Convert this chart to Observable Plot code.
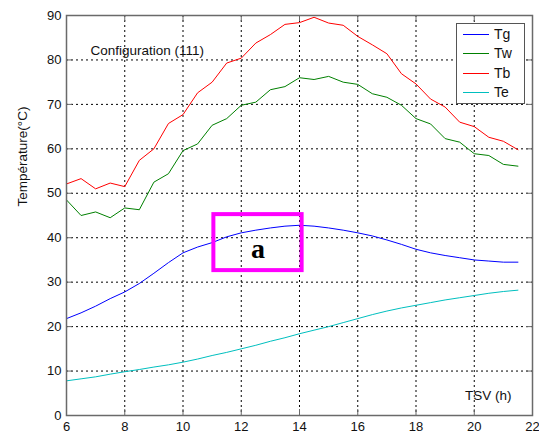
<!DOCTYPE html>
<html>
<head>
<meta charset="utf-8">
<script src="https://cdn.jsdelivr.net/npm/d3@7"></script>
<script src="https://cdn.jsdelivr.net/npm/@observablehq/plot@0.6"></script>
<style>
  body { margin: 0; background: #fff; }
  #wrap { position: relative; width: 539px; height: 437px; font-family: "Liberation Sans", Arial, sans-serif; }
  #legend { position: absolute; left: 456px; top: 23px; width: 69px; height: 81px; box-sizing: border-box;
            border: 1px solid #555; background: #fff; }
  #legend .row { position: absolute; left: 0; height: 18px; width: 100%; }
  #legend .sw { position: absolute; left: 6px; top: 9px; width: 26px; height: 0; border-top: 1px solid; }
  #legend .lb { position: absolute; left: 37px; top: 0; font-size: 14px; line-height: 18px; color: #111; }
</style>
</head>
<body>
<div id="wrap"></div>
<script>
// ---- data ----
const hours = [6, 6, 6.5, 7, 7.5, 8, 8.5, 9, 9.5, 10, 10.5, 11, 11.5, 12, 12.5, 13, 13.5, 14,
               14.5, 15, 15.5, 16, 16.5, 17, 17.5, 18, 18.5, 19, 19.5, 20, 20.5, 21, 21.5];
const seriesNames = ["Tg", "Tw", "Tb", "Te"];
const seriesColors = ["#0000ff", "#008000", "#ff0000", "#00bfbf"];
const Tg = [19.9, 21.8, 23.1, 24.6, 26.3, 27.8, 29.7, 32.0, 34.4, 36.6, 37.9, 38.9, 40.2, 41.1, 41.7, 42.2, 42.6, 42.8,
            42.6, 42.2, 41.7, 41.1, 40.4, 39.5, 38.5, 37.4, 36.6, 36.0, 35.5, 35.0, 34.75, 34.5, 34.5];
const Tw = [46.9, 48.5, 45.0, 45.8, 44.5, 46.7, 46.3, 52.5, 54.4, 59.6, 61.1, 65.3, 66.8, 69.8, 70.5, 73.3, 74.0, 76.0,
            75.6, 76.3, 75.0, 74.5, 72.4, 71.6, 69.8, 66.8, 65.6, 62.3, 61.5, 58.9, 58.5, 56.5, 56.1];
const Tb = [55.9, 52.1, 53.3, 51.0, 52.3, 51.5, 57.4, 60.0, 65.7, 67.7, 72.6, 75.0, 79.3, 80.4, 83.8, 85.7, 88.0, 88.4,
            89.6, 88.3, 87.8, 85.3, 83.4, 81.4, 76.9, 74.6, 71.2, 69.4, 66.0, 65.0, 62.6, 61.7, 59.8];
const Te = [7.8, 7.8, 8.25, 8.7, 9.3, 9.85, 10.35, 10.9, 11.4, 12.0, 12.7, 13.5, 14.2, 15.0, 15.8, 16.7, 17.5, 18.4,
            19.2, 20.0, 20.9, 21.8, 22.7, 23.5, 24.2, 24.8, 25.4, 26.0, 26.5, 27.0, 27.5, 27.9, 28.2];
const xTicks = [6, 8, 10, 12, 14, 16, 18, 20, 22];
const yTicks = [0, 10, 20, 30, 40, 50, 60, 70, 80, 90];
const highlight = [{x1: 11.06, x2: 14.09, y1: 32.6, y2: 45.2, label: "a"}];
const titleText = "Configuration (111)";
const xLabel = "TSV (h)";
const yLabel = "Température(°C)";

// ---- build ----
const valuesBySeries = {Tg, Tw, Tb, Te};
const rows = seriesNames.flatMap(s => hours.map((t, i) => ({series: s, t, v: valuesBySeries[s][i]})));
const inner = xTicks.slice(1, -1);
const innerY = yTicks.slice(1, -1);
const frameColor = "#6a6a6a";

const chart = Plot.plot({
  width: 539, height: 437,
  marginLeft: 66, marginRight: 7, marginTop: 15, marginBottom: 22,
  style: {fontFamily: "Liberation Sans, Arial, sans-serif", fontSize: "13px", color: "#111", background: "#fff"},
  x: {domain: [6, 22]},
  y: {domain: [0, 90]},
  color: {domain: seriesNames, range: seriesColors},
  marks: [
    Plot.gridX(inner, {stroke: "#000", strokeOpacity: 1, strokeDasharray: "2,3"}),
    Plot.gridY(innerY, {stroke: "#000", strokeOpacity: 1, strokeDasharray: "2,3"}),
    Plot.tickX(inner, {x: d => d, stroke: frameColor, insetTop: 394}),
    Plot.tickX(inner, {x: d => d, stroke: frameColor, insetBottom: 394}),
    Plot.tickY(innerY, {y: d => d, stroke: frameColor, insetRight: 460}),
    Plot.tickY(innerY, {y: d => d, stroke: frameColor, insetLeft: 460}),
    Plot.line(rows, {x: "t", y: "v", z: "series", stroke: "series", strokeWidth: 1}),
    Plot.rect(highlight, {x1: "x1", x2: "x2", y1: "y1", y2: "y2", fill: "none", stroke: "#ff00ff", strokeWidth: 4}),
    Plot.text(highlight, {x: d => (d.x1 + d.x2) / 2, y: d => (d.y1 + d.y2) / 2, text: "label",
      dy: 6, fontFamily: "Liberation Serif, Times New Roman, serif", fontWeight: "bold", fontSize: 28, fill: "#000"}),
    Plot.text([titleText], {frameAnchor: "top-left", textAnchor: "start", dx: 24, dy: 30, fontSize: 13.5, fill: "#111"}),
    Plot.text([xLabel], {frameAnchor: "bottom-right", textAnchor: "end", dx: -21, dy: -16, fontSize: 13.5, fill: "#111"}),
    Plot.text([yLabel], {frameAnchor: "left", rotate: -90, dx: -44, dy: -9, fontSize: 13.5, fill: "#111"}),
    Plot.frame({stroke: frameColor, strokeWidth: 1.5}),
    Plot.axisX(xTicks, {tickSize: 0, tickPadding: 6, fontSize: 13, label: null}),
    Plot.axisY(yTicks, {tickSize: 0, tickPadding: 5, fontSize: 13, label: null})
  ]
});

const wrap = document.getElementById("wrap");
wrap.appendChild(chart);

// legend (inside the plot area, top right)
const legend = document.createElement("div");
legend.id = "legend";
seriesNames.forEach((s, i) => {
  const row = document.createElement("div");
  row.className = "row";
  row.style.top = (1 + i * 19.3) + "px";
  const sw = document.createElement("div");
  sw.className = "sw";
  sw.style.borderTopColor = seriesColors[i];
  const lb = document.createElement("div");
  lb.className = "lb";
  lb.textContent = s;
  row.appendChild(sw); row.appendChild(lb);
  legend.appendChild(row);
});
wrap.appendChild(legend);
</script>
</body>
</html>
